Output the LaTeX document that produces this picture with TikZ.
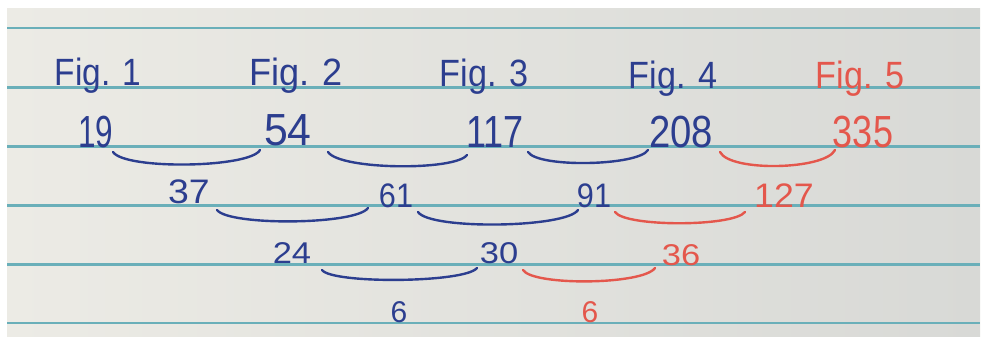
\documentclass[tikz,border=0pt]{standalone}
\usepackage{fontspec}
\usepackage{graphicx}
\setmainfont{Liberation Sans}
\definecolor{ink}{HTML}{2C3E8F}
\definecolor{redink}{HTML}{E4574C}
\definecolor{rulecol}{HTML}{6AAFB9}
\definecolor{paperL}{HTML}{ECEBE5}
\definecolor{paperR}{HTML}{D8D9D6}
\begin{document}
\begin{tikzpicture}[x=1pt,y=-1pt,
  figlab/.style={anchor=base,inner sep=0pt,font=\fontsize{38}{40}\selectfont},
  rowa/.style={anchor=base,inner sep=0pt,font=\fontsize{45}{47}\selectfont},
  rowb/.style={anchor=base,inner sep=0pt,font=\fontsize{34}{36}\selectfont},
  rowc/.style={anchor=base,inner sep=0pt,font=\fontsize{30}{32}\selectfont},
  bl/.style={text=ink},
  rd/.style={text=redink},
  sag/.style={line width=2.4pt,line cap=round,line join=round},
  paperline/.style={rulecol,line width=2.2pt}
]
\useasboundingbox (0,0) rectangle (981,337);
\fill[white] (0,0) rectangle (981,337);
\shade[left color=paperL,right color=paperR] (7,9) rectangle (980,336);
\foreach \yy in {28,87.5,146.5,205.5,264.5,323}
  \draw[paperline] (7,\yy) -- (980,\yy);

% headings
\node[figlab,bl] (f1) at (98,85) {\scalebox{0.88}[1]{Fig. 1}};
\node[figlab,bl] (f2) at (296,85) {\scalebox{0.95}[1]{Fig. 2}};
\node[figlab,bl] (f3) at (484,86) {\scalebox{0.9}[1]{Fig. 3}};
\node[figlab,bl] (f4) at (673,88) {\scalebox{0.9}[1]{Fig. 4}};
\node[figlab,rd] (f5) at (860,88) {\scalebox{0.9}[1]{Fig. 5}};

% row 1
\node[rowa,bl] (n19) at (96,147) {\scalebox{0.7}[1]{19}};
\node[rowa,bl] (n54) at (288,145) {\scalebox{0.95}[1]{54}};
\node[rowa,bl] (n117) at (495,147) {\scalebox{0.8}[1]{117}};
\node[rowa,bl] (n208) at (681,147) {\scalebox{0.85}[1]{208}};
\node[rowa,rd] (n335) at (863,147) {\scalebox{0.8}[1]{335}};

% row 2
\node[rowb,bl] (n37) at (189,203) {\scalebox{1.1}[1]{37}};
\node[rowb,bl] (n61) at (396,207) {\scalebox{0.9}[1]{61}};
\node[rowb,bl] (n91) at (594,207) {\scalebox{0.9}[1]{91}};
\node[rowb,rd] (n127) at (784,207) {\scalebox{1.05}[1]{127}};

% row 3
\node[rowc,bl] (n24) at (292,263) {\scalebox{1.15}[1]{24}};
\node[rowc,bl] (n30) at (499,263) {\scalebox{1.15}[1]{30}};
\node[rowc,rd] (n36) at (681,265) {\scalebox{1.15}[1]{36}};

% row 4
\node[rowc,bl] (d6a) at (399,322) {6};
\node[rowc,rd] (d6b) at (590,322) {6};

% connectors row 1
\draw[sag,ink] ([shift={(17,5)}]n19.base) .. controls +(12,18) and +(-10,18) .. ([shift={(-28,5)}]n54.base);
\draw[sag,ink] ([shift={(40,7)}]n54.base) .. controls +(12,18) and +(-12,16) .. ([shift={(-28,8)}]n117.base);
\draw[sag,ink] ([shift={(33,5)}]n117.base) .. controls +(10,16) and +(-10,16) .. ([shift={(-33,3)}]n208.base);
\draw[sag,redink] ([shift={(39,5)}]n208.base) .. controls +(10,20) and +(-10,20) .. ([shift={(-28,3)}]n335.base);

% connectors row 2
\draw[sag,ink] ([shift={(28,7)}]n37.base) .. controls +(12,16) and +(-12,17) .. ([shift={(-28,1)}]n61.base);
\draw[sag,ink] ([shift={(22,5)}]n61.base) .. controls +(12,18) and +(-12,18) .. ([shift={(-16,3)}]n91.base);
\draw[sag,redink] ([shift={(21,5)}]n91.base) .. controls +(10,15) and +(-12,15) .. ([shift={(-39,5)}]n127.base);

% connectors row 3
\draw[sag,ink] ([shift={(30,7)}]n24.base) .. controls +(10,14) and +(-12,15) .. ([shift={(-22,5)}]n30.base);
\draw[sag,redink] ([shift={(24,7)}]n30.base) .. controls +(10,16) and +(-12,17) .. ([shift={(-26,3)}]n36.base);
\end{tikzpicture}
\end{document}
